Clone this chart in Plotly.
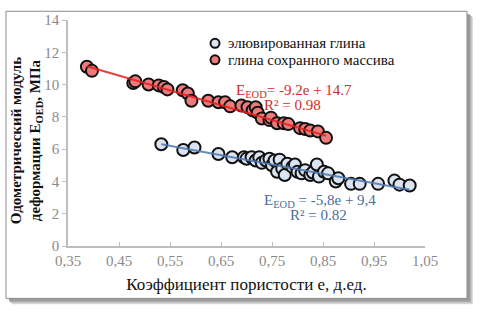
import plotly.graph_objects as go

# Data
red_e = [0.387, 0.397, 0.478, 0.482, 0.508, 0.528, 0.538, 0.545, 0.575, 0.585, 0.592,
         0.625, 0.645, 0.658, 0.668, 0.690, 0.702, 0.712, 0.718, 0.722, 0.730, 0.745,
         0.748, 0.760, 0.773, 0.782, 0.805, 0.815, 0.825, 0.840, 0.856]
red_E = [11.1, 10.85, 10.1, 10.2, 10.0, 9.95, 9.85, 9.7, 9.65, 9.45, 9.0,
         9.0, 8.9, 8.9, 8.65, 8.7, 8.6, 8.4, 8.6, 8.25, 7.9, 7.8,
         7.95, 7.6, 7.6, 7.55, 7.3, 7.25, 7.15, 7.1, 6.7]

blue_e = [0.533, 0.576, 0.598, 0.645, 0.672, 0.695, 0.700, 0.710, 0.718, 0.725, 0.730,
          0.738, 0.745, 0.750, 0.755, 0.760, 0.765, 0.770, 0.775, 0.780, 0.790, 0.795,
          0.800, 0.808, 0.815, 0.825, 0.830, 0.838, 0.842, 0.852, 0.860, 0.875, 0.880,
          0.905, 0.922, 0.958, 0.990, 1.000, 1.020]
blue_E = [6.3, 5.95, 6.1, 5.7, 5.5, 5.5, 5.4, 5.5, 5.3, 5.5, 5.15,
          5.3, 5.4, 5.0, 5.3, 4.6, 5.35, 4.8, 4.4, 5.1, 4.9, 5.05,
          4.6, 4.5, 4.7, 4.4, 4.55, 5.05, 4.3, 4.6, 4.5, 4.0, 4.2,
          3.85, 3.85, 3.85, 4.05, 3.8, 3.75]

red_fit = [-9.2, 14.7]
blue_fit = [-5.8, 9.4]

series_names = ["элювированная глина", "глина сохранного массива"]

x_ticks = [0.35, 0.45, 0.55, 0.65, 0.75, 0.85, 0.95, 1.05]
x_tick_labels = ["0,35", "0,45", "0,55", "0,65", "0,75", "0,85", "0,95", "1,05"]
y_ticks = [0, 2, 4, 6, 8, 10, 12, 14]

SERIF = "'Times New Roman', 'Liberation Serif', serif"
RED_LINE = "#e3211f"
BLUE_LINE = "#4f78b0"
RED_FILL = "#ee7b7b"
BLUE_FILL = "#dbe4f1"

fig = go.Figure()

def fit_line(xs, coef):
    x0, x1 = min(xs), max(xs)
    return [x0, x1], [coef[0] * x0 + coef[1], coef[0] * x1 + coef[1]]

fig.add_trace(go.Scatter(x=blue_e, y=blue_E, mode="markers", name=series_names[0],
                         showlegend=False,
                         marker=dict(size=12, color=BLUE_FILL,
                                     line=dict(color="#111111", width=2))))
fig.add_trace(go.Scatter(x=red_e, y=red_E, mode="markers", name=series_names[1],
                         showlegend=False,
                         marker=dict(size=12, color=RED_FILL,
                                     line=dict(color="#111111", width=2))))

lx, ly = fit_line(blue_e, blue_fit)
fig.add_trace(go.Scatter(x=lx, y=ly, mode="lines", line=dict(color=BLUE_LINE, width=2),
                         showlegend=False, hoverinfo="skip", opacity=0.85))
lx, ly = fit_line(red_e, red_fit)
fig.add_trace(go.Scatter(x=lx, y=ly, mode="lines", line=dict(color=RED_LINE, width=2),
                         showlegend=False, hoverinfo="skip", opacity=0.85))

L, R, T, B = 68, 65, 13, 72
W, H = 490, 318
pw, ph = W - L - R, H - T - B

def px2x(p):
    return (p - L) / pw

def py2y(p):
    return (H - B - p) / ph

shapes = []
# shadow
for off, col in [(6, "#dcdcdc"), (5, "#c8c8c8"), (4, "#b2b2b2"), (3, "#9c9c9c")]:
    shapes.append(dict(type="rect", xref="paper", yref="paper",
                       x0=px2x(6 + off), x1=px2x(467 + off),
                       y0=py2y(300 + off), y1=py2y(4 + off),
                       line=dict(width=0), fillcolor=col, layer="below"))
shapes.append(dict(type="rect", xref="paper", yref="paper",
                   x0=px2x(6), x1=px2x(467), y0=py2y(300), y1=py2y(4),
                   line=dict(color="#8a8a8a", width=1), fillcolor="white", layer="below"))

# legend markers
legend_rows = [(37, BLUE_FILL), (54, RED_FILL)]
for (ry, fill) in legend_rows:
    shapes.append(dict(type="circle", xref="paper", yref="paper",
                       xsizemode="pixel", ysizemode="pixel",
                       xanchor=px2x(215), yanchor=py2y(ry),
                       x0=-4.5, x1=4.5, y0=-4.5, y1=4.5,
                       line=dict(color="#111111", width=2), fillcolor=fill, layer="above"))

annotations = [
    dict(text="<b>Одометрический модуль<br>деформации E<sub>OED</sub>, МПа</b>",
         xref="paper", yref="paper", x=px2x(27), y=py2y(137), textangle=-90,
         xanchor="center", yanchor="middle",
         showarrow=False, font=dict(family=SERIF, size=15, color="#111111")),
    dict(text="E<sub>EOD</sub>= -9.2e + 14.7", xref="paper", yref="paper",
         x=px2x(234), y=py2y(86), xanchor="left", yanchor="middle", showarrow=False,
         font=dict(family=SERIF, size=15, color="#d42a2a")),
    dict(text="R² = 0.98", xref="paper", yref="paper",
         x=px2x(292), y=py2y(101), xanchor="center", yanchor="middle", showarrow=False,
         font=dict(family=SERIF, size=15, color="#d42a2a")),
    dict(text="E<sub>EOD</sub> = -5,8e + 9,4", xref="paper", yref="paper",
         x=px2x(262), y=py2y(200), xanchor="left", yanchor="middle", showarrow=False,
         font=dict(family=SERIF, size=15, color="#4a6d9e")),
    dict(text="R² = 0.82", xref="paper", yref="paper",
         x=px2x(318), y=py2y(214), xanchor="center", yanchor="middle", showarrow=False,
         font=dict(family=SERIF, size=15, color="#4a6d9e")),
]
for (ry, _), name in zip(legend_rows, series_names):
    annotations.append(dict(text=name, xref="paper", yref="paper",
                            x=px2x(226), y=py2y(ry), xanchor="left", yanchor="middle",
                            showarrow=False,
                            font=dict(family=SERIF, size=15, color="#111111")))

fig.update_layout(
    width=W, height=H,
    margin=dict(l=L, r=R, t=T, b=B),
    paper_bgcolor="white", plot_bgcolor="rgba(0,0,0,0)",
    font=dict(family=SERIF),
    shapes=shapes, annotations=annotations,
    showlegend=False,
    xaxis=dict(range=[0.35, 1.05], tickvals=x_ticks, ticktext=x_tick_labels,
               showgrid=False, zeroline=False, showline=True, linecolor="#bdbdbd",
               linewidth=1.5, ticks="inside", ticklen=4, tickcolor="#bdbdbd",
               tickfont=dict(family=SERIF, size=15, color="#8a8a8a"),
               title=dict(text="Коэффициент пористости е, д.ед.",
                          font=dict(family=SERIF, size=17, color="#111111"), standoff=10)),
    yaxis=dict(range=[0, 14], tickvals=y_ticks, showgrid=False, zeroline=False,
               showline=True, linecolor="#bdbdbd", linewidth=1.5, ticks="outside",
               ticklen=4, tickcolor="#bdbdbd",
               tickfont=dict(family=SERIF, size=15, color="#8a8a8a")),
)

fig.write_html("out.html", config={"displayModeBar": False},
               post_script="document.body.style.margin='0';")
